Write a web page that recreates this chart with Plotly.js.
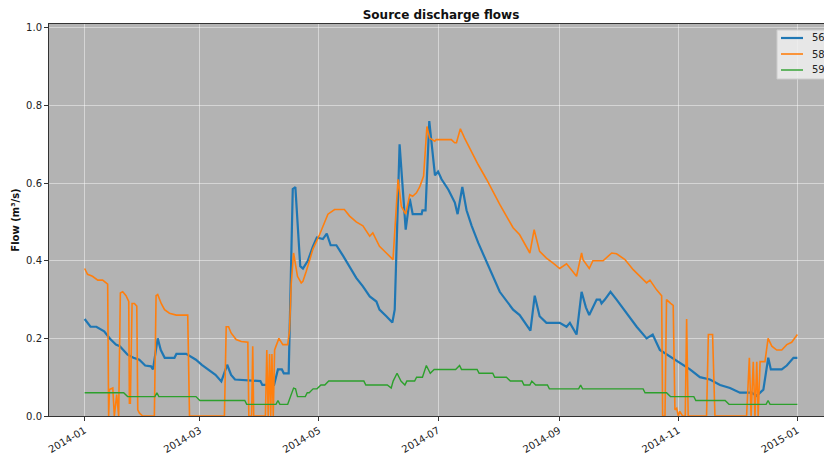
<!DOCTYPE html>
<html>
<head>
<meta charset="utf-8">
<script src="https://cdn.plot.ly/plotly-3.0.1.min.js"></script>
<style>
html, body { margin:0; padding:0; overflow:hidden; background:#fff; }
#chart { width:850px; height:457px; }
</style>
</head>
<body>
<div id="chart"></div>
<script>
// ---- Data ----
const seriesNames = ["56", "58", "59"];

const dates56 = ["2014-01-01","2014-01-03","2014-01-04","2014-01-07","2014-01-09","2014-01-11","2014-01-14","2014-01-17","2014-01-19","2014-01-23","2014-01-26","2014-01-29","2014-02-01","2014-02-04","2014-02-05",
"2014-02-07 10:00","2014-02-09","2014-02-11","2014-02-16","2014-02-17","2014-02-22","2014-02-24","2014-02-27","2014-03-02","2014-03-05","2014-03-09","2014-03-12",
"2014-03-15","2014-03-17","2014-03-19","2014-04-01","2014-04-02","2014-04-08","2014-04-10","2014-04-12","2014-04-13","2014-04-15 12:00",
"2014-04-17 14:00","2014-04-18 22:00","2014-04-20 05:00","2014-04-21 10:00","2014-04-22 19:00","2014-04-25 07:00","2014-04-27 22:00","2014-04-29 22:00",
"2014-05-03","2014-05-05","2014-05-07","2014-05-09 22:00","2014-05-13 07:00","2014-05-16 17:00","2014-05-20 02:00","2014-05-23 12:00","2014-05-27","2014-05-30 10:00",
"2014-06-01","2014-06-04 12:00","2014-06-07 14:00","2014-06-08 19:00","2014-06-11 07:00","2014-06-14 10:00","2014-06-16 12:00","2014-06-18","2014-06-22 14:00","2014-06-23","2014-06-24 14:00",
"2014-06-26 12:00","2014-06-29 10:00","2014-07-01","2014-07-02 19:00","2014-07-06 07:00","2014-07-09 14:00","2014-07-11","2014-07-13 10:00","2014-07-15 14:00","2014-07-18 05:00",
"2014-07-21 14:00","2014-07-26 19:00","2014-08-01 14:00","2014-08-08 10:00","2014-08-11 19:00","2014-08-17 07:00","2014-08-19 12:00","2014-08-22","2014-08-25 12:00",
"2014-09-01 07:00","2014-09-04 19:00","2014-09-06 12:00","2014-09-09 22:00","2014-09-12 12:00","2014-09-14 17:00","2014-09-16 10:00","2014-09-20 05:00","2014-09-21 22:00",
"2014-09-22 17:00","2014-09-24 10:00","2014-09-27 07:00","2014-09-30 10:00","2014-10-05 12:00","2014-10-10 17:00","2014-10-15 19:00","2014-10-18 22:00","2014-10-22 14:00",
"2014-10-27 17:00","2014-11-01 19:00","2014-11-07","2014-11-12 02:00","2014-11-17 05:00","2014-11-22 10:00","2014-11-27 12:00","2014-12-02 14:00","2014-12-08 14:00",
"2014-12-11 05:00","2014-12-14 14:00","2014-12-17 02:00","2014-12-18 10:00","2014-12-24","2014-12-26 14:00","2014-12-30","2015-01-01"];
const flow56 = [0.25,0.235,0.23,0.23,0.225,0.218,0.199,0.184,0.18,0.158,0.15,0.145,0.13,0.128,0.12,
0.20,0.17,0.15,0.15,0.16,0.16,0.154,0.145,0.132,0.12,0.106,0.089,
0.132,0.106,0.094,0.09,0.08,0.08,0.12,0.12,0.11,0.11,
0.585,0.59,0.47,0.386,0.38,0.40,0.437,0.46,
0.456,0.47,0.44,0.44,0.413,0.386,0.356,0.334,0.308,0.295,
0.274,0.257,0.241,0.274,0.70,0.48,0.56,0.52,0.52,0.53,0.53,
0.76,0.62,0.63,0.61,0.583,0.55,0.52,0.59,0.53,0.49,
0.446,0.386,0.32,0.274,0.26,0.22,0.31,0.257,0.24,
0.24,0.23,0.24,0.21,0.32,0.28,0.26,0.30,0.30,
0.29,0.30,0.32,0.30,0.265,0.23,0.20,0.21,0.17,
0.154,0.137,0.12,0.10,0.094,0.08,0.072,0.06,0.06,
0.052,0.068,0.15,0.12,0.12,0.13,0.15,0.15];

const dates58 = ["2014-01-01","2014-01-02 12:00","2014-01-05","2014-01-07 17:00","2014-01-10 05:00","2014-01-12","2014-01-12 19:00","2014-01-13 07:00","2014-01-13 17:00","2014-01-15 10:00",
"2014-01-16 05:00","2014-01-17 10:00","2014-01-18 10:00","2014-01-19 07:00","2014-01-20 12:00","2014-01-22 05:00","2014-01-23 14:00","2014-01-23 22:00","2014-01-24 10:00","2014-01-25 07:00",
"2014-01-26 12:00","2014-01-27 17:00","2014-01-28 05:00","2014-01-29","2014-01-30 17:00","2014-02-05 17:00","2014-02-06 14:00","2014-02-07 10:00","2014-02-09 05:00","2014-02-10 22:00",
"2014-02-13 10:00","2014-02-16 22:00","2014-02-22 19:00","2014-02-23 17:00","2014-03-13 14:00","2014-03-14 12:00","2014-03-15 17:00","2014-03-17","2014-03-19 14:00","2014-03-22 05:00",
"2014-03-25 14:00","2014-03-26 02:00","2014-03-27 12:00","2014-03-28 02:00","2014-03-28 14:00","2014-04-03 14:00","2014-04-04 07:00","2014-04-05 00:00","2014-04-05 17:00","2014-04-06 07:00",
"2014-04-06 22:00","2014-04-07 14:00","2014-04-08 07:00","2014-04-09","2014-04-10 12:00","2014-04-12 12:00","2014-04-15","2014-04-15 22:00","2014-04-16 19:00","2014-04-18",
"2014-04-20","2014-04-21 22:00","2014-04-22 19:00","2014-04-24 12:00","2014-04-27 22:00","2014-05-01 07:00","2014-05-05 14:00","2014-05-09","2014-05-14","2014-05-16 17:00",
"2014-05-20 02:00","2014-05-23 12:00","2014-05-27","2014-05-28 14:00","2014-06-01","2014-06-04 12:00","2014-06-07 22:00","2014-06-10 12:00","2014-06-12 05:00","2014-06-14 10:00",
"2014-06-16 12:00","2014-06-18","2014-06-19 22:00","2014-06-21 14:00","2014-06-23 14:00","2014-06-25 07:00","2014-06-26 17:00","2014-06-29 07:00","2014-06-30","2014-07-07 19:00",
"2014-07-09 12:00","2014-07-10 10:00","2014-07-12 10:00","2014-07-14 14:00","2014-07-18","2014-07-21 12:00","2014-07-25 19:00","2014-08-01 14:00","2014-08-08 10:00","2014-08-11 19:00",
"2014-08-17","2014-08-19 05:00","2014-08-22","2014-08-25 12:00","2014-08-28 22:00","2014-09-01 07:00","2014-09-04 19:00","2014-09-09 22:00","2014-09-12 12:00","2014-09-13 05:00",
"2014-09-16 10:00","2014-09-18 07:00","2014-09-23 12:00","2014-09-27 22:00","2014-09-30 10:00","2014-10-04 17:00","2014-10-08 22:00","2014-10-15 19:00","2014-10-17 12:00","2014-10-20 22:00",
"2014-10-23 12:00","2014-10-24","2014-10-25 05:00","2014-10-26","2014-10-28 02:00","2014-10-29 10:00","2014-10-30 07:00","2014-10-31 05:00","2014-11-01","2014-11-01 19:00",
"2014-11-03 05:00","2014-11-04 14:00","2014-11-05 07:00","2014-11-06 02:00","2014-11-15 12:00","2014-11-16 10:00","2014-11-18 14:00","2014-11-19 19:00","2014-12-06","2014-12-07 10:00",
"2014-12-08 07:00","2014-12-09 10:00","2014-12-10 07:00","2014-12-11 05:00","2014-12-11 22:00","2014-12-12 22:00","2014-12-15 10:00","2014-12-17","2014-12-18 22:00","2014-12-21 10:00",
"2014-12-24","2014-12-26 14:00","2014-12-29 02:00","2015-01-01"];
const flow58 = [0.38,0.365,0.36,0.35,0.35,0.343,0.34,0.0,0.068,0.072,
0.0,0.055,0.0,0.317,0.32,0.31,0.295,0.033,0.033,0.29,
0.29,0.283,0.016,0.008,0.0,0.0,0.31,0.313,0.29,0.274,
0.265,0.26,0.26,0.0,0.0,0.23,0.23,0.214,0.197,0.192,
0.19,0.0,0.0,0.18,0.0,0.0,0.17,0.0,0.16,0.0,
0.16,0.0,0.17,0.18,0.20,0.184,0.184,0.22,0.34,0.42,
0.36,0.343,0.347,0.373,0.43,0.467,0.52,0.532,0.532,0.515,
0.50,0.49,0.463,0.472,0.437,0.42,0.403,0.61,0.54,0.52,
0.57,0.566,0.575,0.59,0.618,0.746,0.716,0.708,0.712,0.712,
0.704,0.704,0.74,0.716,0.682,0.648,0.61,0.545,0.485,0.467,
0.42,0.48,0.424,0.407,0.394,0.38,0.392,0.36,0.42,0.403,
0.38,0.40,0.40,0.42,0.418,0.403,0.377,0.343,0.35,0.325,
0.31,0.0,0.0,0.30,0.29,0.285,0.016,0.02,0.0,0.012,
0.0,0.0,0.25,0.0,0.0,0.21,0.21,0.0,0.0,0.15,
0.0,0.14,0.0,0.14,0.0,0.14,0.14,0.20,0.18,0.17,
0.17,0.184,0.19,0.21];

const dates59 = ["2014-01-01","2014-01-21","2014-01-23","2014-02-06","2014-02-07","2014-02-08","2014-02-27","2014-03-01","2014-03-24","2014-03-25",
"2014-04-09","2014-04-10","2014-04-11","2014-04-15","2014-04-18","2014-04-19","2014-04-20","2014-04-24","2014-04-25","2014-04-26",
"2014-04-28","2014-04-30","2014-05-02","2014-05-04","2014-05-06","2014-05-24","2014-05-25","2014-06-05","2014-06-07","2014-06-08",
"2014-06-10","2014-06-12","2014-06-14","2014-06-15","2014-06-19","2014-06-20","2014-06-23","2014-06-25","2014-06-27","2014-06-29",
"2014-07-10","2014-07-12","2014-07-13","2014-07-21","2014-07-22","2014-07-29","2014-07-30","2014-08-05","2014-08-07","2014-08-13",
"2014-08-14","2014-08-17","2014-08-18","2014-08-20","2014-08-26","2014-08-27","2014-09-11","2014-09-12","2014-09-13","2014-10-14",
"2014-10-15","2014-10-26","2014-10-28","2014-11-09","2014-11-10","2014-11-25","2014-11-27","2014-12-16","2014-12-17","2014-12-18",
"2015-01-01"];
const flow59 = [0.06,0.06,0.05,0.05,0.06,0.05,0.05,0.04,0.04,0.03,
0.03,0.04,0.03,0.03,0.072,0.07,0.05,0.05,0.06,0.06,
0.07,0.07,0.08,0.08,0.09,0.09,0.08,0.08,0.072,0.09,
0.11,0.09,0.08,0.09,0.09,0.10,0.10,0.13,0.11,0.12,
0.12,0.13,0.12,0.12,0.11,0.11,0.10,0.10,0.09,0.09,
0.08,0.08,0.09,0.08,0.08,0.07,0.07,0.08,0.07,0.07,
0.06,0.06,0.05,0.05,0.04,0.04,0.03,0.03,0.04,0.03,
0.03];

const yTicks = [0.0, 0.2, 0.4, 0.6, 0.8, 1.0];
const yTickText = ["0.0", "0.2", "0.4", "0.6", "0.8", "1.0"];

const colors = ["#1f77b4", "#ff7f0e", "#2ca02c"];
const widths = [2.2, 1.6, 1.4];

const traces = [
  {x: dates56, y: flow56, name: seriesNames[0], mode: "lines", line: {color: colors[0], width: widths[0]}},
  {x: dates58, y: flow58, name: seriesNames[1], mode: "lines", line: {color: colors[1], width: widths[1]}},
  {x: dates59, y: flow59, name: seriesNames[2], mode: "lines", line: {color: colors[2], width: widths[2]}}
];

const font = "DejaVu Sans, Liberation Sans, sans-serif";

// plot area geometry (pixels) used to place the legend box
const W = 850, H = 457, ML = 49, MR = 17, MT = 24, MB = 41;
const PW = W - ML - MR, PH = H - MT - MB;
const px = v => (v - ML) / PW;
const py = v => (H - MB - v) / PH;

// legend drawn as shapes + annotations (matplotlib style, upper right)
const shapes = [{
  type: "rect", xref: "paper", yref: "paper",
  x0: px(777), x1: px(829), y0: py(79), y1: py(30),
  fillcolor: "rgba(240,240,240,0.85)", line: {color: "#cccccc", width: 1}, layer: "above"
}];
const annotations = [];
seriesNames.forEach((nm, i) => {
  const yy = 38 + i * 16;
  shapes.push({type: "line", xref: "paper", yref: "paper",
    x0: px(781), x1: px(803), y0: py(yy), y1: py(yy),
    line: {color: colors[i], width: widths[i]}, layer: "above"});
  annotations.push({xref: "paper", yref: "paper", x: px(810), y: py(yy),
    xanchor: "left", yanchor: "middle", text: nm, showarrow: false,
    font: {family: font, size: 10, color: "#222"}});
});

const layout = {
  width: W, height: H,
  margin: {l: ML, r: MR, t: MT, b: MB, pad: 0},
  paper_bgcolor: "#ffffff",
  plot_bgcolor: "#b3b3b3",
  font: {family: font, size: 10, color: "#222"},
  title: {text: "<b>Source discharge flows</b>", font: {family: font, size: 12, color: "#111"},
          x: 0.5, xref: "paper", xanchor: "center", y: 1 - 15/457, yref: "container", yanchor: "middle"},
  showlegend: false,
  shapes: shapes,
  annotations: annotations,
  xaxis: {
    type: "date",
    range: ["2013-12-13 18:00", "2015-01-19 06:00"],
    tick0: "2014-01-01", dtick: "M2", tickformat: "%Y-%m",
    tickangle: -30,
    ticks: "outside", ticklen: 4, tickcolor: "#333", tickwidth: 1,
    showline: true, linecolor: "#333", linewidth: 1, mirror: true,
    showgrid: true, gridcolor: "rgba(255,255,255,0.45)", gridwidth: 1,
    zeroline: false, tickfont: {family: font, size: 10, color: "#222"}
  },
  yaxis: {
    range: [0, 1.01],
    tickvals: yTicks, ticktext: yTickText,
    ticks: "outside", ticklen: 4, tickcolor: "#333", tickwidth: 1,
    showline: true, linecolor: "#333", linewidth: 1,
    showgrid: true, gridcolor: "rgba(255,255,255,0.45)", gridwidth: 1,
    zeroline: false, tickfont: {family: font, size: 10, color: "#222"},
    title: {text: "<b>Flow (m³/s)</b>", font: {family: font, size: 10, color: "#111"}, standoff: 4}
  }
};

Plotly.newPlot("chart", traces, layout, {staticPlot: true, displayModeBar: false});
</script>
</body>
</html>
